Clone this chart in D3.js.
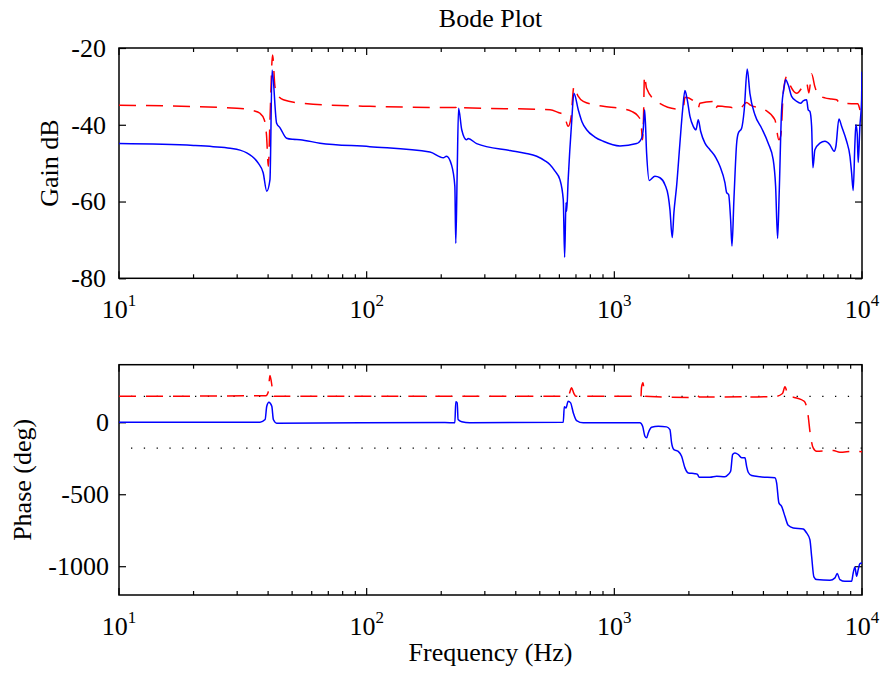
<!DOCTYPE html>
<html>
<head>
<meta charset="utf-8">
<script src="https://cdn.jsdelivr.net/npm/d3@7/dist/d3.min.js"></script>
<style>
  html, body { margin: 0; padding: 0; background: #fff; }
  svg { display: block; }
  text { font-family: "Liberation Serif", "Times New Roman", serif; fill: #000; }
</style>
</head>
<body>
<svg id="chart" width="881" height="674"></svg>
<script>
// ---------------- DATA ----------------
const gainTicks = [-20, -40, -60, -80];
const phaseTicks = [0, -500, -1000];
const freqTickExponents = [1, 2, 3, 4];
const phaseRefLines = [180, -180];

// Blue gain (dB)
const freqGainBlue = [10, 20, 24, 28.1, 30.8, 32.8, 34.4, 36.5, 38.2, 39.5, 40.7, 41.5, 43.3, 44.7, 47.5, 50.4, 53.8, 64.8, 103, 180, 204, 210, 220, 227, 229, 232, 235, 242, 253, 257, 278, 379, 436, 486, 525, 550, 575, 603, 622, 630, 638, 642, 651, 672, 687, 715, 740, 773, 835, 902, 1054, 1230, 1289, 1308, 1326, 1350, 1383, 1458, 1528, 1601, 1651, 1677, 1713, 1740, 1784, 1840, 1887, 1928, 1970, 2020, 2083, 2136, 2182, 2231, 2322, 2432, 2572, 2669, 2796, 2841, 2894, 2948, 2985, 3040, 3118, 3165, 3266, 3346, 3440, 3527, 3695, 3933, 4181, 4380, 4479, 4563, 4631, 4736, 4852, 4916, 5036, 5197, 5445, 5651, 5789, 5975, 6065, 6161, 6260, 6335, 6454, 6762, 7083, 7421, 7723, 7847, 8068, 8273, 8667, 8940, 9078, 9215, 9362, 9448, 9562, 9654, 9806, 9963, 10000];
const gainBlue = [-44.9, -45.4, -45.7, -46.1, -46.6, -47.3, -48.2, -50.0, -52.5, -57.3, -54.3, -25.7, -39.6, -40.8, -43.5, -43.8, -43.9, -44.8, -45.7, -47.1, -48.6, -48.2, -50.4, -56.0, -70.9, -52.5, -35.7, -41.3, -43.9, -43.6, -44.9, -46.7, -47.4, -48.2, -49.4, -50.4, -52.0, -54.3, -59.5, -74.5, -60.3, -62.5, -54.3, -39.6, -31.8, -36.1, -39.2, -41.3, -43.2, -44.3, -45.5, -44.9, -43.5, -41.3, -36.1, -47.4, -54.5, -53.4, -53.8, -55.6, -58.6, -62.1, -69.4, -62.9, -56.0, -44.8, -36.1, -31.1, -33.5, -37.8, -40.4, -41.3, -38.7, -41.7, -44.8, -46.5, -48.6, -50.8, -55.1, -57.7, -58.2, -64.7, -71.6, -59.5, -44.8, -42.2, -40.9, -36.1, -25.5, -31.8, -37.4, -40.9, -44.8, -49.1, -56.0, -69.6, -57.7, -36.1, -30.0, -28.3, -29.6, -32.6, -33.9, -34.4, -33.8, -33.5, -36.1, -36.5, -40.4, -51.2, -46.5, -44.8, -44.3, -45.2, -46.9, -45.6, -38.5, -40.4, -44.3, -48.2, -52.5, -57.1, -44.8, -40.0, -42.2, -49.8, -40.4, -33.5, -26.2];

// Red gain (dB)
const freqGainRed = [10, 29.9, 34.8, 37.1, 38.6, 39.4, 40.1, 40.7, 41.7, 42.6, 43.3, 46.1, 55.5, 103, 229, 234, 238, 550, 594, 626, 651, 668, 687, 713, 749, 902, 1054, 1174, 1245, 1281, 1299, 1311, 1323, 1350, 1482, 1811, 1901, 1928, 2120, 2182, 2215, 2547, 2572, 2608, 3215, 3421, 3527, 4055, 4450, 4618, 4706, 4808, 4963, 5117, 5445, 5975, 6104, 6260, 6454, 6656, 7083, 7541, 7897, 8143, 9078, 9617, 9897, 10000];
const gainRed = [-34.9, -35.7, -36.3, -37.0, -38.7, -42.6, -50.8, -38.7, -21.8, -29.9, -31.8, -33.5, -34.4, -35.2, -35.5, -34.8, -35.5, -36.1, -36.8, -37.4, -40.4, -38.2, -30.0, -32.5, -33.9, -35.2, -35.7, -36.5, -37.7, -39.2, -43.9, -38.7, -27.3, -30.5, -33.9, -35.9, -35.3, -32.8, -34.2, -35.6, -34.4, -33.9, -35.7, -35.1, -35.7, -34.2, -34.8, -36.1, -38.7, -43.9, -42.6, -31.8, -27.5, -29.6, -31.8, -29.1, -31.7, -26.8, -30.1, -32.2, -33.0, -33.3, -33.5, -34.4, -34.5, -34.5, -36.6, -34.3];

// Blue phase (deg)
const freqPhaseBlue = [10, 37.1, 38.9, 39.5, 40.3, 41.4, 42.0, 43.3, 207, 227, 229, 232, 234, 242, 261, 622, 628, 638, 651, 666, 683, 704, 749, 1269, 1301, 1329, 1350, 1371, 1414, 1504, 1626, 1677, 1703, 1740, 1811, 1869, 1928, 1988, 2115, 2161, 2202, 2432, 2588, 2796, 2883, 2948, 3004, 3069, 3165, 3266, 3368, 3421, 3472, 3584, 3870, 4450, 4521, 4618, 4736, 4884, 5036, 5277, 5789, 5975, 6161, 6260, 6394, 6556, 7421, 7778, 7943, 8143, 8531, 9078, 9215, 9362, 9511, 9654, 9806, 10000];
const phaseBlue = [0, 1, 19, 111, 139, 111, 19, -6, -2, -4, 142, 135, 19, 3, -4, 0, 107, 100, 146, 135, 65, 12, -4, -4, -28, -97, -108, -74, -35, -28, -32, -51, -143, -190, -202, -236, -317, -352, -357, -360, -382, -382, -375, -379, -363, -341, -224, -213, -224, -247, -247, -306, -347, -370, -379, -386, -421, -560, -584, -653, -716, -734, -741, -769, -815, -931, -1074, -1093, -1098, -1081, -1051, -1093, -1105, -1105, -1047, -1005, -1070, -1024, -982, -977];

// Red phase (deg)
const freqPhaseRed = [10, 39.2, 40.0, 40.7, 41.6, 42.1, 620, 656, 672, 687, 700, 1281, 1287, 1305, 1317, 1329, 2115, 2161, 2215, 3368, 3430, 3527, 4450, 4775, 4884, 5036, 5445, 5754, 5881, 6065, 6161, 6353, 6556, 7655, 8143, 9215, 10000];
const phaseRed = [180, 185, 207, 325, 234, 180, 180, 195, 239, 199, 180, 180, 240, 274, 228, 180, 172, 185, 175, 178, 190, 176, 178, 200, 246, 186, 169, 153, 140, 42, -62, -178, -201, -196, -208, -201, -205];

// ---------------- CHART ----------------
const svg = d3.select("#chart");
const X0 = 119, X1 = 862;
const top1 = 48, bot1 = 278.3;
const top2 = 364.7, bot2 = 595;

const x = d3.scaleLog().domain([10, 10000]).range([X0, X1]);
const yG = d3.scaleLinear().domain([-80, -20]).range([bot1, top1]);
const yP = d3.scaleLinear().domain([-1200, 400]).range([bot2, top2]);

const defs = svg.append("defs");
defs.append("clipPath").attr("id", "clip1").append("rect")
  .attr("x", X0).attr("y", top1).attr("width", X1 - X0).attr("height", bot1 - top1);
defs.append("clipPath").attr("id", "clip2").append("rect")
  .attr("x", X0).attr("y", top2).attr("width", X1 - X0).attr("height", bot2 - top2);

function zip(a, b) { return a.map((v, i) => [v, b[i]]); }

function drawPanel(y, top, bot, yTicks, pad) {
  const g = svg.append("g");
  const yl = g.append("g").attr("transform", `translate(${X0},0)`)
    .call(d3.axisLeft(y).tickValues(yTicks).tickSize(-7).tickPadding(pad).tickFormat(d => String(d)));
  yl.select(".domain").remove();
  yl.selectAll("line").attr("stroke", "#000").attr("stroke-width", 1.2);
  yl.selectAll("text").style("font-size", "26px").attr("fill", "#000")
    .style("font-family", "'Liberation Serif', serif");
  const yr = g.append("g").attr("transform", `translate(${X1},0)`)
    .call(d3.axisRight(y).tickValues(yTicks).tickSize(-7).tickFormat(""));
  yr.select(".domain").remove();
  yr.selectAll("line").attr("stroke", "#000").attr("stroke-width", 1.2);

  const allTicks = x.ticks();
  const isMajor = d => Math.abs(Math.log10(d) - Math.round(Math.log10(d))) < 1e-9;
  [[bot, -1], [top, 1]].forEach(([yy, dir]) => {
    g.append("g").selectAll("line").data(allTicks).join("line")
      .attr("x1", d => x(d)).attr("x2", d => x(d))
      .attr("y1", yy).attr("y2", d => yy + dir * (isMajor(d) ? 7 : 4))
      .attr("stroke", "#000").attr("stroke-width", 1.2);
  });
  const lab = g.append("g").selectAll("text").data(freqTickExponents).join("text")
    .attr("x", d => x(Math.pow(10, d))).attr("y", bot + 40)
    .attr("text-anchor", "middle").style("font-size", "26px");
  lab.append("tspan").text("10");
  lab.append("tspan").attr("dy", -12).style("font-size", "17px").text(d => d);

  g.append("rect").attr("x", X0).attr("y", top).attr("width", X1 - X0).attr("height", bot - top)
    .attr("fill", "none").attr("stroke", "#000").attr("stroke-width", 1.5);
  return g;
}

drawPanel(yG, top1, bot1, gainTicks, 13);
drawPanel(yP, top2, bot2, phaseTicks, 10);

svg.append("g").attr("clip-path", "url(#clip2)").selectAll("line").data(phaseRefLines).join("line")
  .attr("x1", X0 + 12).attr("x2", X1).attr("y1", d => yP(d)).attr("y2", d => yP(d))
  .attr("stroke", "#000").attr("stroke-width", 1.3).attr("stroke-dasharray", "1.3,11.5");

const line = (y) => d3.line().x(d => x(d[0])).y(d => y(d[1])).curve(d3.curveMonotoneX);

const g1 = svg.append("g").attr("clip-path", "url(#clip1)");
g1.append("path").datum(zip(freqGainRed, gainRed)).attr("d", line(yG))
  .attr("fill", "none").attr("stroke", "#ff0000").attr("stroke-width", 1.5).attr("stroke-dasharray", "17,10");
g1.append("path").datum(zip(freqGainBlue, gainBlue)).attr("d", line(yG))
  .attr("fill", "none").attr("stroke", "#0000ff").attr("stroke-width", 1.5);

const g2 = svg.append("g").attr("clip-path", "url(#clip2)");
g2.append("path").datum(zip(freqPhaseRed, phaseRed)).attr("d", line(yP))
  .attr("fill", "none").attr("stroke", "#ff0000").attr("stroke-width", 1.5).attr("stroke-dasharray", "17,10");
g2.append("path").datum(zip(freqPhaseBlue, phaseBlue)).attr("d", line(yP))
  .attr("fill", "none").attr("stroke", "#0000ff").attr("stroke-width", 1.5);

svg.append("text").attr("x", (X0 + X1) / 2).attr("y", 27).attr("text-anchor", "middle")
  .style("font-size", "26px").text("Bode Plot");
svg.append("text").attr("x", (X0 + X1) / 2).attr("y", 661).attr("text-anchor", "middle")
  .style("font-size", "26px").text("Frequency (Hz)");
svg.append("text").attr("transform", `translate(58,${(top1 + bot1) / 2}) rotate(-90)`)
  .attr("text-anchor", "middle").style("font-size", "26px").text("Gain dB");
svg.append("text").attr("transform", `translate(31,${(top2 + bot2) / 2}) rotate(-90)`)
  .attr("text-anchor", "middle").style("font-size", "26px").text("Phase (deg)");
</script>
</body>
</html>
